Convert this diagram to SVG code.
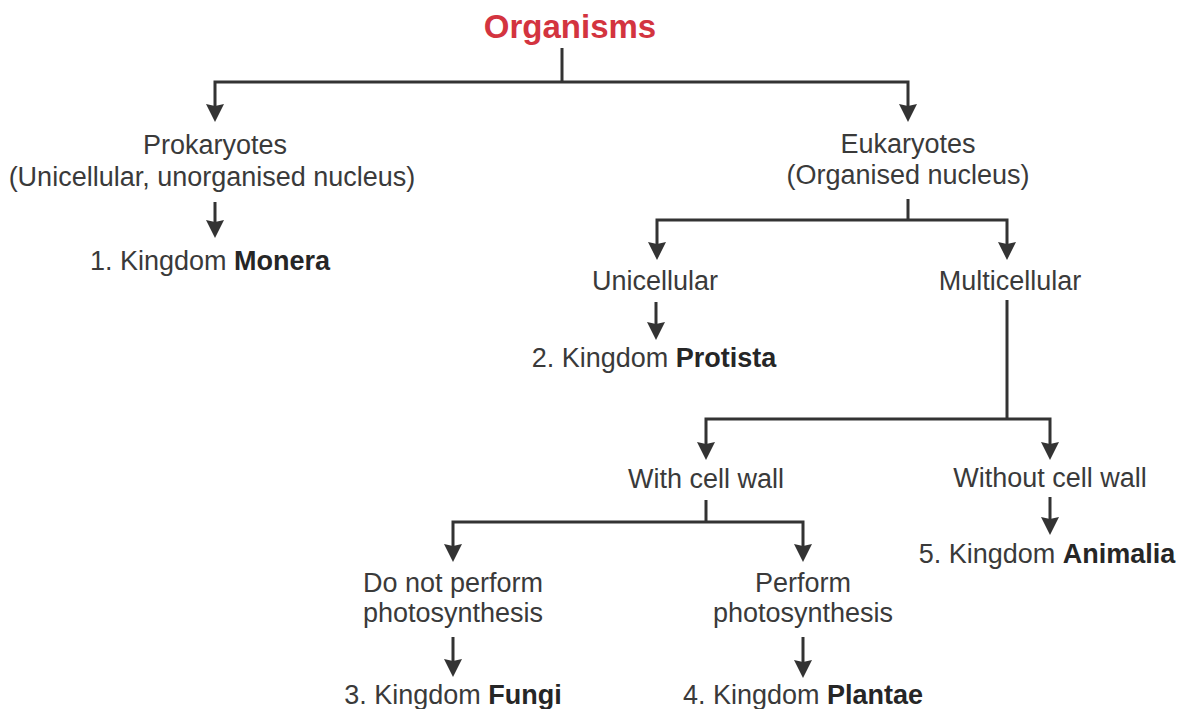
<svg xmlns="http://www.w3.org/2000/svg" width="1185" height="709" viewBox="0 0 1185 709">
<style>
text{font-family:"Liberation Sans",Arial,sans-serif;font-size:27px;fill:#3a3a3a;text-anchor:middle}
.b{font-weight:bold;fill:#262626}
.title{font-size:33px;font-weight:bold;fill:#d3343f}
.c path{fill:none;stroke:#333;stroke-width:3;stroke-linejoin:miter}
.c path.a{marker-end:url(#ah)}
</style>
<defs>
<marker id="ah" viewBox="0 -10 18 20" refX="12" refY="0" markerWidth="18" markerHeight="20" markerUnits="userSpaceOnUse" orient="auto">
<path d="M0,-9 L18,0 L0,9 L2,0 Z" fill="#333"/>
</marker>
</defs>
<rect width="1185" height="709" fill="#fff"/>
<g class="c" id="connectors">
<path d="M562,48 V82"/>
<path class="a" d="M562,82 H215 V116"/>
<path class="a" d="M562,82 H908 V116"/>
<path class="a" d="M215,202 V232"/>
<path d="M908,199 V220"/>
<path class="a" d="M908,220 H657 V254"/>
<path class="a" d="M908,220 H1007 V254"/>
<path class="a" d="M656,302 V334"/>
<path d="M1007,300 V419"/>
<path class="a" d="M1007,419 H706 V454"/>
<path class="a" d="M1007,419 H1050 V454"/>
<path class="a" d="M1050,497 V529"/>
<path d="M706,500 V522"/>
<path class="a" d="M706,522 H453 V556"/>
<path class="a" d="M706,522 H803 V556"/>
<path class="a" d="M453,637 V671"/>
<path class="a" d="M803,637 V672"/>
</g>
<g id="organisms"><text class="title" x="570" y="38">Organisms</text></g>
<g id="prokaryotes"><text x="215" y="154">Prokaryotes</text><text x="212" y="186">(Unicellular, unorganised nucleus)</text></g>
<g id="monera"><text x="210" y="270">1. Kingdom <tspan class="b">Monera</tspan></text></g>
<g id="eukaryotes"><text x="908" y="153">Eukaryotes</text><text x="908" y="184">(Organised nucleus)</text></g>
<g id="unicellular"><text x="655" y="290">Unicellular</text></g>
<g id="multicellular"><text x="1010" y="290">Multicellular</text></g>
<g id="protista"><text x="654" y="367">2. Kingdom <tspan class="b">Protista</tspan></text></g>
<g id="withwall"><text x="706" y="488">With cell wall</text></g>
<g id="withoutwall"><text x="1050" y="487">Without cell wall</text></g>
<g id="animalia"><text x="1047" y="563">5. Kingdom <tspan class="b">Animalia</tspan></text></g>
<g id="nophoto"><text x="453" y="592">Do not perform</text><text x="453" y="622">photosynthesis</text></g>
<g id="photo"><text x="803" y="592">Perform</text><text x="803" y="622">photosynthesis</text></g>
<g id="fungi"><text x="453" y="704">3. Kingdom <tspan class="b">Fungi</tspan></text></g>
<g id="plantae"><text x="803" y="704">4. Kingdom <tspan class="b">Plantae</tspan></text></g>
</svg>
